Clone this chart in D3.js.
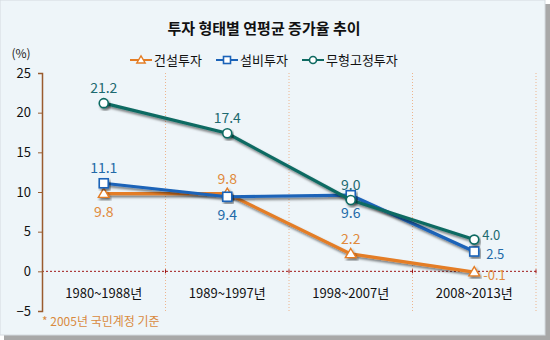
<!DOCTYPE html>
<html>
<head>
<meta charset="utf-8">
<script src="https://cdn.jsdelivr.net/npm/d3@7"></script>
<style>
  body { margin: 0; background: #fff; }
  svg { display: block; font-family: "Noto Sans CJK KR", "DejaVu Sans", sans-serif; }
</style>
</head>
<body>
<svg id="chart"></svg>
<script>
const periods = ['1980~1988년', '1989~1997년', '1998~2007년', '2008~2013년'];
const construction = [9.8, 9.8, 2.2, -0.1];
const equipment = [11.1, 9.4, 9.6, 2.5];
const intangible = [21.2, 17.4, 9.0, 4.0];
const yTicks = [-5, 0, 5, 10, 15, 20, 25];

// label placement per point: 'a' above, 'b' below, 'r' right
const series = [
  { name: '건설투자', values: construction, color: '#E47D25', text: '#E08A3C', marker: 'triangle',
    labels: ['b', 'a', 'a', 'r'], right: [9, 8] },
  { name: '설비투자', values: equipment, color: '#1B63B8', text: '#236AA8', marker: 'square',
    labels: ['a', 'b', 'b', 'r'], right: [12, 7] },
  { name: '무형고정투자', values: intangible, color: '#0E6A62', text: '#1D6A70', marker: 'circle',
    labels: ['a', 'a', 'a', 'r'], right: [8, 0] },
];

const width = 550, height = 340;
const margin = { top: 73, right: 14, bottom: 29, left: 42 };
const plotW = width - margin.left - margin.right;
const plotH = height - margin.top - margin.bottom;

const svg = d3.select('#chart').attr('width', width).attr('height', height);

const defs = svg.append('defs');
const f = defs.append('filter').attr('id', 'shadow')
  .attr('x', '-10%').attr('y', '-10%').attr('width', '130%').attr('height', '140%');
f.append('feDropShadow').attr('dx', 1.5).attr('dy', 2.2).attr('stdDeviation', 1.3)
  .attr('flood-color', '#000').attr('flood-opacity', 0.5);

// frame with shadow
svg.append('rect').attr('x', 0).attr('y', 0).attr('width', width).attr('height', height).attr('fill', '#fff');
svg.append('rect').attr('x', 4).attr('y', 4).attr('width', width - 4).attr('height', height - 4).attr('fill', '#A8A8A8');
svg.append('rect').attr('x', 0).attr('y', 0).attr('width', width - 5).attr('height', height - 5)
  .attr('fill', '#EEF5F9').attr('stroke', '#D4DADF').attr('stroke-width', 1);

svg.append('text').attr('x', 264).attr('y', 34).attr('text-anchor', 'middle')
  .attr('font-size', 15).attr('font-weight', 'bold').attr('fill', '#111')
  .text('투자 형태별 연평균 증가율 추이');

svg.append('text').attr('x', 21).attr('y', 58).attr('text-anchor', 'middle')
  .attr('font-size', 12).attr('fill', '#222').text('(%)');

const x = d3.scaleBand().domain(periods).range([0, plotW]);
const y = d3.scaleLinear().domain([-5, 25]).range([plotH, 0]);

const g = svg.append('g').attr('transform', `translate(${margin.left},${margin.top})`);

// vertical dotted grid
g.selectAll('line.vgrid').data(periods).enter().append('line')
  .attr('class', 'vgrid')
  .attr('x1', d => x(d) + x.bandwidth()).attr('x2', d => x(d) + x.bandwidth())
  .attr('y1', 0).attr('y2', plotH)
  .attr('stroke', '#EDB58E').attr('stroke-width', 1).attr('stroke-dasharray', '1,2');

// zero line
g.append('line').attr('x1', 0).attr('x2', plotW).attr('y1', y(0)).attr('y2', y(0))
  .attr('stroke', '#A01818').attr('stroke-width', 1).attr('stroke-dasharray', '2,2');
g.selectAll('line.ztick').data(periods).enter().append('line')
  .attr('class', 'ztick')
  .attr('x1', d => x(d) + x.bandwidth()).attr('x2', d => x(d) + x.bandwidth())
  .attr('y1', y(0) - 2).attr('y2', y(0) + 2)
  .attr('stroke', '#A01818');

// y axis
const yAxis = d3.axisLeft(y).tickValues(yTicks).tickSize(4).tickPadding(7);
const ya = g.append('g').call(yAxis);
ya.select('.domain').attr('stroke', '#9A5B2E').attr('stroke-width', 1.5);
ya.selectAll('.tick line').attr('stroke', '#9A5B2E');
ya.selectAll('.tick text').attr('font-size', 13).attr('fill', '#111')
  .attr('font-family', '"Noto Sans CJK KR", sans-serif');

// x labels
g.selectAll('text.xl').data(periods).enter().append('text')
  .attr('class', 'xl')
  .attr('x', d => x(d) + x.bandwidth() / 2).attr('y', y(0) + 27)
  .attr('text-anchor', 'middle').attr('font-size', 13).attr('fill', '#111')
  .text(d => d);

const line = d3.line().x((d, i) => x(periods[i]) + x.bandwidth() / 2).y(d => y(d));

function drawMarker(sel, type, color, size) {
  if (type === 'circle') {
    sel.append('circle').attr('r', size * 0.5).attr('fill', '#fff').attr('stroke', color).attr('stroke-width', 1.6);
  } else if (type === 'square') {
    sel.append('rect').attr('x', -size / 2).attr('y', -size / 2).attr('width', size).attr('height', size)
      .attr('fill', '#fff').attr('stroke', color).attr('stroke-width', 1.6);
  } else {
    const s = size * 0.6;
    sel.append('path').attr('d', `M0,${-s} L${s},${s * 0.7} L${-s},${s * 0.7} Z`)
      .attr('fill', '#fff').attr('stroke', color).attr('stroke-width', 1.4);
  }
}

series.forEach(s => {
  const sg = g.append('g');
  sg.append('path').datum(s.values).attr('d', line)
    .attr('fill', 'none').attr('stroke', s.color).attr('stroke-width', 3.2)
    .attr('filter', 'url(#shadow)');
  s.values.forEach((v, i) => {
    const px = x(periods[i]) + x.bandwidth() / 2, py = y(v);
    const m = sg.append('g').attr('transform', `translate(${px},${py})`).attr('filter', 'url(#shadow)');
    drawMarker(m, s.marker, s.color, 9);
  });
});

// value labels (on top)
series.forEach(s => {
  s.values.forEach((v, i) => {
    const px = x(periods[i]) + x.bandwidth() / 2, py = y(v);
    const pos = s.labels[i];
    const t = g.append('text').attr('font-size', pos === 'r' ? 13 : 14).attr('fill', s.text).text(v.toFixed(1));
    if (pos === 'a') t.attr('x', px).attr('y', py - 10).attr('text-anchor', 'middle');
    else if (pos === 'b') t.attr('x', px).attr('y', py + 23).attr('text-anchor', 'middle');
    else t.attr('x', px + s.right[0]).attr('y', py + s.right[1]).attr('text-anchor', 'start');
  });
});

// legend
const legendX = [130, 216, 302];
series.forEach((s, i) => {
  const lg = svg.append('g').attr('transform', `translate(${legendX[i]},60)`);
  lg.append('line').attr('x1', 0).attr('x2', 22).attr('y1', 0).attr('y2', 0)
    .attr('stroke', s.color).attr('stroke-width', 2);
  drawMarker(lg.append('g').attr('transform', 'translate(11,0)'), s.marker, s.color, 7);
  lg.append('text').attr('x', 24).attr('y', 5).attr('font-size', 13).attr('fill', '#111').text(s.name);
});

// footnote
svg.append('text').attr('x', 42).attr('y', 326).attr('font-size', 12).attr('fill', '#D98A3E')
  .text('* 2005년  국민계정 기준');
</script>
</body>
</html>
